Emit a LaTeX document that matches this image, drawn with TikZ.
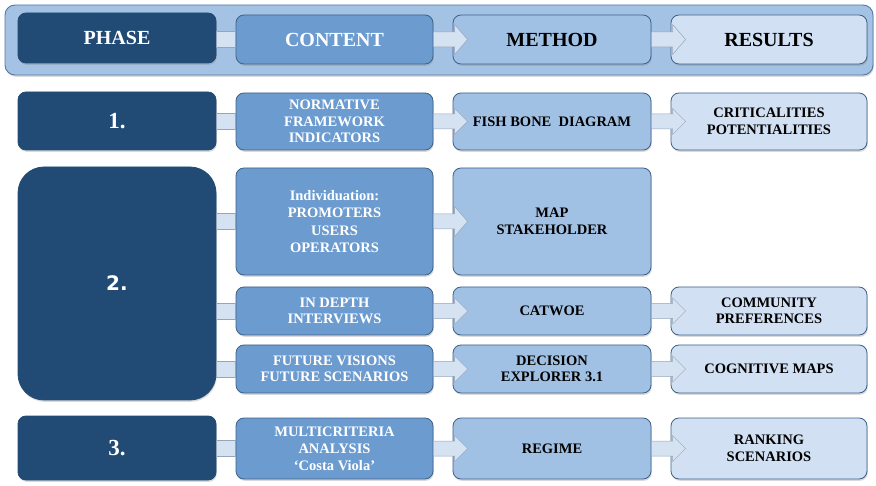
\documentclass[tikz,border=0pt]{standalone}
\usepackage{fontspec}
\setmainfont{Liberation Serif}
\newfontfamily\numsans{DejaVu Sans}
\usetikzlibrary{shadows,calc}

\definecolor{navy}{RGB}{33,74,116}
\definecolor{midblue}{RGB}{108,156,207}
\definecolor{liteblue}{RGB}{161,193,228}
\definecolor{paleblue}{RGB}{209,224,242}
\definecolor{boxedge}{RGB}{62,96,135}
\definecolor{linkfill}{RGB}{212,226,242}
\definecolor{linkedge}{RGB}{150,165,185}
\definecolor{bandfill}{RGB}{163,194,228}
\definecolor{bandedge}{RGB}{85,120,165}

% block arrow from the east side of #1 into the west side of #2
% (#3 = half shaft height, #4 = half head height)
\newcommand\blockarrow[4]{%
  \draw[arrowlink] let \p1=(#1.east), \p2=(#2.west) in
    (\x1,\y2+#3) -- (\x2+2pt,\y2+#3) -- (\x2+2pt,\y2+#4) -- (\x2+15pt,\y2)
    -- (\x2+2pt,\y2-#4) -- (\x2+2pt,\y2-#3) -- (\x1,\y2-#3) -- cycle;}
% plain bar joining the east side of #1 to the west side of #2
\newcommand\plainlink[3]{%
  \draw[barlink] let \p1=(#1.east), \p2=(#2.west) in
    (\x1,\y2+#3) rectangle (\x2,\y2-#3);}

\begin{document}
\begin{tikzpicture}[x=1pt,y=-1pt,
  sz/.style 2 args={minimum width=#1pt, minimum height=#2pt},
  box/.style={rectangle, rounded corners=8pt, draw=boxedge, line width=0.8pt,
    align=center, inner sep=2pt,
    font=\bfseries\fontsize{14.5}{16.5}\selectfont,
    drop shadow={shadow xshift=0.8pt, shadow yshift=-1.8pt, opacity=0.3}},
  head/.style={font=\bfseries\fontsize{20}{22}\selectfont},
  phasebox/.style={box, fill=navy, draw=navy, text=white},
  contbox/.style={box, fill=midblue, text=white},
  methbox/.style={box, fill=liteblue, text=black},
  resbox/.style={box, fill=paleblue, text=black},
  band/.style={rectangle, rounded corners=10pt, fill=bandfill, draw=bandedge,
    line width=0.9pt,
    drop shadow={shadow xshift=0.8pt, shadow yshift=-1.8pt, opacity=0.3}},
  arrowlink/.style={fill=linkfill, draw=linkedge, line width=0.5pt},
  barlink/.style={fill=linkfill, draw=linkedge, line width=0.5pt},
  numserif/.style={font=\bfseries\fontsize{23}{25}\selectfont},
  numsansstyle/.style={font=\numsans\bfseries\fontsize{20}{22}\selectfont}]

\useasboundingbox (0,0) rectangle (876,486);

% header band
\node[band, sz={868}{70}] (band) at (439,40) {};
\node[phasebox, head, sz={198}{50}] (hp) at (117,38) {PHASE};
\node[contbox, head, sz={197}{49}] (hc) at (334.5,39.5) {CONTENT};
\node[methbox, head, sz={198}{49}] (hm) at (552,39.5) {METHOD};
\node[resbox, head, sz={196}{49}] (hr) at (769,39.5) {RESULTS};

% phase 1
\node[phasebox, numserif, sz={198}{58}] (p1) at (117,121) {1.};
\node[contbox, sz={197}{57}] (c1) at (334.5,121.5) {NORMATIVE\\FRAMEWORK\\INDICATORS};
\node[methbox, sz={198}{57}] (m1) at (552,121.5) {FISH BONE\ \ DIAGRAM};
\node[resbox, sz={196}{57}] (r1) at (769,121.5) {CRITICALITIES\\POTENTIALITIES};

% phase 2
\node[phasebox, numsansstyle, sz={198}{233}, rounded corners=26pt] (p2) at (117,283.5) {2.};
\node[contbox, sz={197}{107}, font=\bfseries\fontsize{14.5}{17.5}\selectfont] (c2a) at (334.5,221.5)
  {Individuation:\\PROMOTERS\\USERS\\OPERATORS};
\node[methbox, sz={198}{107}] (m2a) at (552,221.5) {MAP\\STAKEHOLDER};
\node[contbox, sz={197}{48}] (c2b) at (334.5,311) {IN DEPTH\\INTERVIEWS};
\node[methbox, sz={198}{48}] (m2b) at (552,311) {CATWOE};
\node[resbox, sz={196}{48}] (r2b) at (769,311) {COMMUNITY\\PREFERENCES};
\node[contbox, sz={197}{48}] (c2c) at (334.5,369) {FUTURE VISIONS\\FUTURE SCENARIOS};
\node[methbox, sz={198}{48}] (m2c) at (552,369) {DECISION\\EXPLORER 3.1};
\node[resbox, sz={196}{48}] (r2c) at (769,369) {COGNITIVE MAPS};

% phase 3
\node[phasebox, numserif, sz={198}{64}] (p3) at (117,448) {3.};
\node[contbox, sz={197}{61}, font=\bfseries\fontsize{14.5}{17}\selectfont] (c3) at (334.5,448.5)
  {MULTICRITERIA\\ANALYSIS\\‘Costa Viola’};
\node[methbox, sz={198}{61}] (m3) at (552,448.5) {REGIME};
\node[resbox, sz={196}{61}] (r3) at (769,448.5) {RANKING\\SCENARIOS};

% connectors
\plainlink{hp}{hc}{8pt}
\blockarrow{hc}{hm}{7.5pt}{15pt}
\blockarrow{hm}{hr}{7.5pt}{15pt}

\plainlink{p1}{c1}{8pt}
\blockarrow{c1}{m1}{7.5pt}{13pt}
\blockarrow{m1}{r1}{7.5pt}{13pt}

\plainlink{p2}{c2a}{8pt}
\blockarrow{c2a}{m2a}{7.5pt}{15pt}
\plainlink{p2}{c2b}{8pt}
\blockarrow{c2b}{m2b}{7.5pt}{13pt}
\blockarrow{m2b}{r2b}{7.5pt}{13pt}
\plainlink{p2}{c2c}{8pt}
\blockarrow{c2c}{m2c}{7.5pt}{13pt}
\blockarrow{m2c}{r2c}{7.5pt}{13pt}

\plainlink{p3}{c3}{8pt}
\blockarrow{c3}{m3}{7.5pt}{13pt}
\blockarrow{m3}{r3}{7.5pt}{13pt}
\end{tikzpicture}
\end{document}
